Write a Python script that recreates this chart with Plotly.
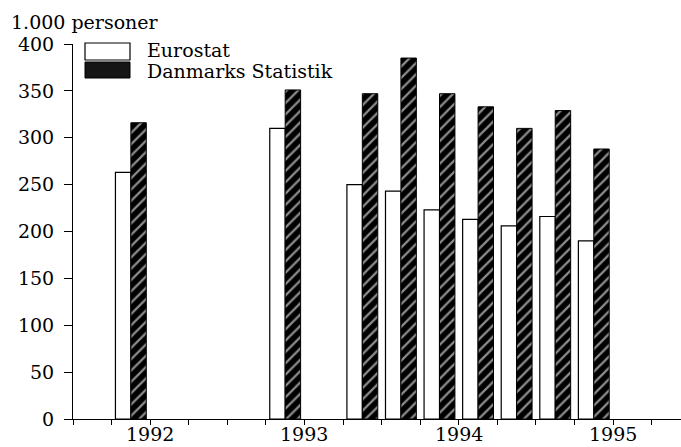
import plotly.graph_objects as go

# ---- data ----
quarters = ["1992K2", "1993K2", "1993K4", "1994K1", "1994K2", "1994K3", "1994K4", "1995K1", "1995K2"]
eurostat = [263, 310, 250, 243, 223, 213, 206, 216, 190]
danmarks_statistik = [316, 351, 347, 385, 347, 333, 310, 329, 288]
year_labels = ["1992", "1993", "1994", "1995"]
y_ticks = [0, 50, 100, 150, 200, 250, 300, 350, 400]

FIRST_YEAR = 1992


def q_index(label):
    year = int(label[:4])
    q = int(label[-1])
    return (year - FIRST_YEAR) * 4 + (q - 1)


x_pos = [q_index(q) for q in quarters]
n_quarters = 4 * len(year_labels)

FONT = "DejaVu Serif"
FS = 19

fig = go.Figure()
fig.add_trace(go.Bar(
    x=x_pos, y=eurostat, name="Eurostat",
    marker=dict(color="white", line=dict(color="black", width=1.2)),
))
fig.add_trace(go.Bar(
    x=x_pos, y=danmarks_statistik, name="Danmarks Statistik",
    marker=dict(color="black", line=dict(color="black", width=1),
                pattern=dict(shape="/", fgcolor="#8c8c8c", bgcolor="black",
                             size=8, solidity=0.28, fillmode="replace")),
))

# x ticks on quarter boundaries (labels drawn as annotations at mid-year)
tickvals = [i - 0.5 for i in range(n_quarters + 1)]

fig.update_layout(
    width=681, height=447,
    margin=dict(l=73, r=0, t=44, b=28),
    paper_bgcolor="white", plot_bgcolor="white",
    barmode="group", bargap=0.2, bargroupgap=0,
    showlegend=False,
    font=dict(family=FONT, size=FS, color="black"),
    xaxis=dict(
        range=[-0.5, 15.26], tickmode="array", tickvals=tickvals,
        ticktext=[""] * len(tickvals),
        ticks="outside", ticklen=5, tickcolor="black", tickwidth=1,
        showline=True, linecolor="black", linewidth=1,
        showgrid=False, zeroline=False, automargin=False,
    ),
    yaxis=dict(
        range=[0, 400], tickmode="array", tickvals=y_ticks,
        ticks="outside", ticklen=8, tickcolor="black", tickwidth=1,
        showline=True, linecolor="black", linewidth=1,
        showgrid=False, zeroline=False, automargin=False,
        ticklabelstandoff=6,
        tickfont=dict(family=FONT, size=FS, color="black"),
    ),
)

# year labels at mid-year on the x axis
for k, yl in enumerate(year_labels):
    fig.add_annotation(text=yl, xref="x", yref="paper", x=4 * k + 1.5, y=0,
                       xanchor="center", yanchor="bottom", yshift=-28,
                       showarrow=False, font=dict(family=FONT, size=FS, color="black"))

# axis title at top-left
fig.add_annotation(text="1.000 personer", xref="paper", yref="paper", x=0, y=1,
                   xanchor="left", yanchor="middle", xshift=-64, yshift=22,
                   showarrow=False, font=dict(family=FONT, size=FS, color="black"))


# legend drawn manually (pixel -> paper helpers)
def px_x(p):
    return (p - 73) / 608.0


def px_y(p):
    return (419 - p) / 375.0


fig.add_shape(type="rect", xref="paper", yref="paper",
              x0=px_x(85), x1=px_x(130), y0=px_y(60), y1=px_y(43),
              line=dict(color="black", width=1.2), fillcolor="white")
fig.add_shape(type="rect", xref="paper", yref="paper",
              x0=px_x(85), x1=px_x(130), y0=px_y(78), y1=px_y(62),
              line=dict(color="black", width=1), fillcolor="#151515")
fig.add_annotation(text="Eurostat", xref="paper", yref="paper", x=px_x(145), y=px_y(49.5),
                   xanchor="left", yanchor="middle", showarrow=False,
                   font=dict(family=FONT, size=FS, color="black"))
fig.add_annotation(text="Danmarks Statistik", xref="paper", yref="paper", x=px_x(145), y=px_y(71),
                   xanchor="left", yanchor="middle", showarrow=False,
                   font=dict(family=FONT, size=FS, color="black"))

fig.write_html("out.html", post_script="document.body.style.margin='0px';",
               config={"displayModeBar": False})
